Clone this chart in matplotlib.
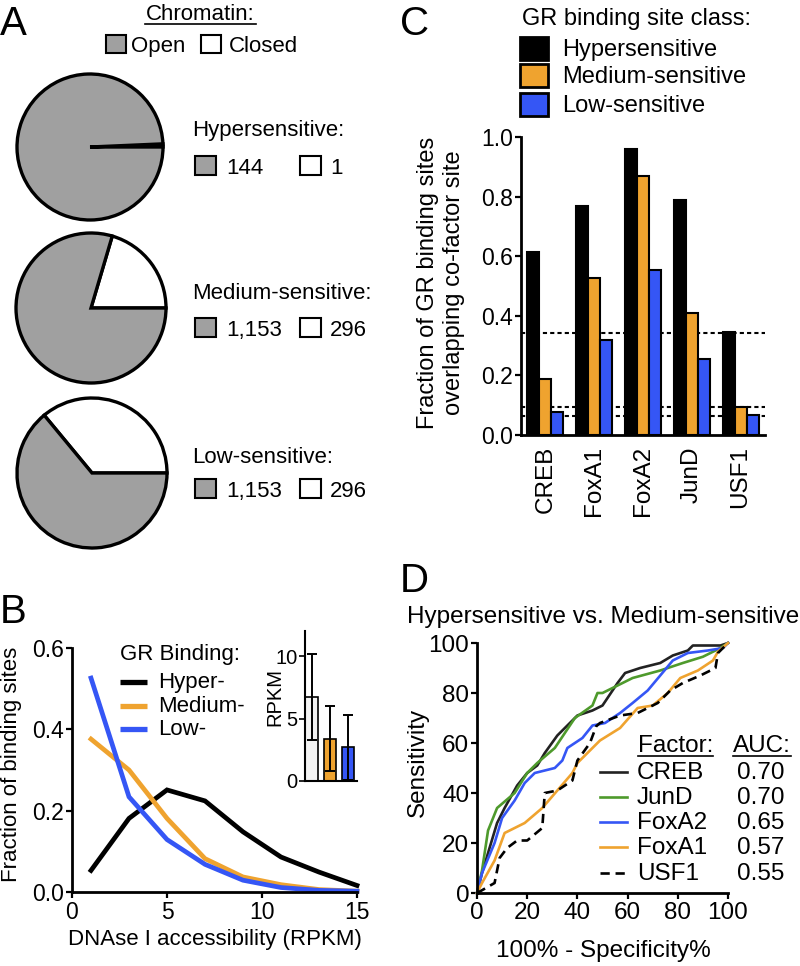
import matplotlib
matplotlib.use('Agg')
import matplotlib.pyplot as plt
from matplotlib.patches import Rectangle
import numpy as np

plt.rcParams['font.family'] = ['Liberation Sans', 'DejaVu Sans']

# ---------------- DATA ----------------
# Panel A
chromatin_states = ['Open', 'Closed']
pie_classes = ['Hypersensitive:', 'Medium-sensitive:', 'Low-sensitive:']
pie_closed = [1, 296, 36]
pie_open = [144, 1153, 64]
pie_open_labels = ['144', '1,153', '1,153']
pie_closed_labels = ['1', '296', '296']

# Panel B
access_x = [1, 3, 5, 7, 9, 11, 13, 15]
frac_hyper = [0.053, 0.181, 0.251, 0.224, 0.148, 0.086, 0.049, 0.016]
frac_medium = [0.376, 0.300, 0.181, 0.082, 0.037, 0.018, 0.006, 0.002]
frac_low = [0.526, 0.234, 0.129, 0.068, 0.029, 0.011, 0.004, 0.002]
b_series = ['Hyper-', 'Medium-', 'Low-']
inset_mean = [6.7, 3.4, 2.7]
inset_sd = [3.45, 2.6, 2.6]

# Panel C
factors_c = ['CREB', 'FoxA1', 'FoxA2', 'JunD', 'USF1']
c_classes = ['Hypersensitive', 'Medium-sensitive', 'Low-sensitive']
c_hyper = [0.615, 0.768, 0.961, 0.788, 0.346]
c_medium = [0.187, 0.528, 0.868, 0.411, 0.095]
c_low = [0.076, 0.318, 0.555, 0.256, 0.067]
c_background = [0.343, 0.095, 0.065]

# Panel D (ROC curves)
roc_names = ['CREB', 'JunD', 'FoxA2', 'FoxA1', 'USF1']
roc_auc = ['0.70', '0.70', '0.65', '0.57', '0.55']
creb_fpr = [0, 2, 5, 8, 11, 16, 20, 24, 27, 32, 40, 46, 50, 56, 59, 65, 73, 78, 84, 86, 97, 100]
creb_tpr = [0, 8, 18, 28, 34, 43, 48, 51, 56, 63, 71, 73, 75, 84, 88, 90, 92, 95, 97, 99, 99, 100]
jund_fpr = [0, 2, 4.4, 8, 15, 20, 24, 31, 39, 46, 48, 50, 54, 62, 73, 82, 90, 97, 100]
jund_tpr = [0, 9, 25, 34, 40, 48, 52, 58, 70, 75, 80, 80, 82, 86, 89, 92, 94.5, 98, 100]
foxa2_fpr = [0, 2, 7, 10, 15, 19, 23, 31, 34, 36, 42, 46, 51, 57, 62, 68, 73, 78, 84, 92, 98, 100]
foxa2_tpr = [0, 8, 20, 30, 37, 44, 48, 50, 53, 58, 62, 67, 68, 72, 76, 81, 87, 93, 96, 97, 98, 100]
foxa1_fpr = [0, 2, 7, 11, 19, 26, 32, 38, 40, 45, 49, 57, 64, 70, 76, 81, 88, 94, 96, 100]
foxa1_tpr = [0, 4, 13, 24, 28, 34, 41, 48, 52, 57, 61, 66, 74, 75, 80, 86, 89, 93, 96.5, 100]
usf1_fpr = [0, 1.3, 7, 9, 12, 16, 20, 26, 27, 32, 38, 40, 45, 47.5, 49, 57, 64, 72, 77, 82, 89, 95, 96, 100]
usf1_tpr = [0, 0.7, 4, 14, 18, 21, 21, 26, 40, 41, 45, 53, 60, 66.7, 68, 71, 72, 76, 81, 84, 87, 90, 96, 100]

# ---------------- STYLE ----------------
GRAY = '#A0A0A0'
ORANGE = '#EFA32F'
BLUE = '#3556F5'
GREEN = '#4E9A2C'

W, H = 800, 966
fig = plt.figure(figsize=(W / 100, H / 100), dpi=100)


def box(x0, y0, x1, y1):
    return [x0 / W, 1 - y1 / H, (x1 - x0) / W, (y1 - y0) / H]


def style_axes(ax, fs, lw=2.0):
    for s in ['top', 'right']:
        ax.spines[s].set_visible(False)
    for s in ['left', 'bottom']:
        ax.spines[s].set_linewidth(lw)
    ax.tick_params(direction='out', length=4.5, width=lw * 0.8, labelsize=fs, pad=1)


# ---------------- PANEL A ----------------
pie_geo = [(90, 147, 73), (91, 308, 75), (92, 473, 75)]
for i, (cx, cy, r) in enumerate(pie_geo):
    R = r * 1.06
    ax = fig.add_axes(box(cx - R, cy - R, cx + R, cy + R))
    ax.pie([pie_closed[i], pie_open[i]], colors=['white', GRAY], startangle=0,
           counterclock=True, radius=1.0,
           wedgeprops=dict(edgecolor='black', linewidth=2.4))
    ax.set_xlim(-1.06, 1.06)
    ax.set_ylim(-1.06, 1.06)
    ax.axis('off')

# ---------------- PANEL C ----------------
axC = fig.add_axes(box(521, 137, 765, 435))
xc = np.arange(len(factors_c))
bw = 0.245
for yb in c_background:
    axC.axhline(yb, color='black', lw=1.5, ls=(0, (2, 1.5)), zorder=1)
for vals, col, off in [(c_hyper, 'black', -bw), (c_medium, ORANGE, 0), (c_low, BLUE, bw)]:
    axC.bar(xc + off, vals, width=bw, color=col, edgecolor='black', linewidth=1.5, zorder=2)
axC.set_xlim(-0.5, 4.5)
axC.set_ylim(0, 1.0)
axC.set_yticks(np.arange(0, 1.01, 0.2))
axC.set_yticklabels(['%.1f' % v for v in np.arange(0, 1.01, 0.2)])
style_axes(axC, 16.5)
axC.set_xticks(xc)
axC.set_xticklabels(factors_c, rotation=90, fontsize=17.5)
axC.tick_params(axis='x', length=0, pad=8)

# ---------------- PANEL B ----------------
axB = fig.add_axes(box(72, 648, 357, 892))
for vals, col in [(frac_hyper, 'black'), (frac_medium, ORANGE), (frac_low, BLUE)]:
    axB.plot(access_x, vals, color=col, lw=3.4, clip_on=False, solid_joinstyle='miter')
axB.set_xlim(0, 15)
axB.set_ylim(0, 0.6)
axB.set_xticks([0, 5, 10, 15])
axB.set_yticks([0, 0.2, 0.4, 0.6])
axB.set_yticklabels(['0.0', '0.2', '0.4', '0.6'])
style_axes(axB, 16.5)
axB.tick_params(axis='x', pad=2)

axI = fig.add_axes(box(305, 631, 357, 781))
axI.bar([0, 1, 2], inset_mean, width=0.68, color=['#F3F3F3', ORANGE, BLUE],
        edgecolor='black', linewidth=1.2, yerr=inset_sd,
        error_kw=dict(ecolor='black', elinewidth=1.4, capsize=3.5, capthick=1.4))
axI.set_xlim(-0.36, 2.5)
axI.set_ylim(0, 12)
axI.set_yticks([0, 5, 10])
axI.set_xticks([])
style_axes(axI, 14.5, lw=1.5)
axI.patch.set_alpha(0)

# ---------------- PANEL D ----------------
axD = fig.add_axes(box(477, 643, 728, 893))
roc_sets = [(creb_fpr, creb_tpr, '#222222', '-'), (jund_fpr, jund_tpr, GREEN, '-'),
            (foxa2_fpr, foxa2_tpr, BLUE, '-'), (foxa1_fpr, foxa1_tpr, ORANGE, '-'),
            (usf1_fpr, usf1_tpr, 'black', (0, (3.5, 2.2)))]
for fx, fy, col, ls in roc_sets:
    axD.plot(fx, fy, color=col, lw=1.9, ls=ls, clip_on=False)
axD.set_xlim(0, 100)
axD.set_ylim(0, 100)
axD.set_xticks(range(0, 101, 20))
axD.set_yticks(range(0, 101, 20))
style_axes(axD, 17.5)
axD.tick_params(axis='x', pad=2)

# ---------------- OVERLAY TEXT ----------------
ov = fig.add_axes([0, 0, 1, 1], zorder=10)
ov.set_xlim(0, W)
ov.set_ylim(H, 0)
ov.axis('off')


def T(x, y, s, fs=16, **kw):
    ov.text(x, y, s, fontsize=fs, va=kw.pop('va', 'baseline'), ha=kw.pop('ha', 'left'), **kw)


# panel letters
T(0, 35, 'A', 29)
T(400, 35, 'C', 29)
T(0, 623, 'B', 29)
T(400, 592, 'D', 29)

# Panel A legend
T(200, 20, 'Chromatin:', 16)
ov.texts[-1].set_ha('center')
ov.plot([145, 256], [24, 24], color='black', lw=1.2)
ov.add_patch(Rectangle((106, 35), 20, 18, facecolor=GRAY, edgecolor='black', lw=1.5))
T(131, 52, chromatin_states[0], 16)
ov.add_patch(Rectangle((201, 35), 20, 18, facecolor='white', edgecolor='black', lw=1.5))
T(229, 52, chromatin_states[1], 16)

rows_a = [(136, 156), (299, 318), (463, 479)]
for i, (ty, sy) in enumerate(rows_a):
    T(192, ty, pie_classes[i], 16)
    ov.add_patch(Rectangle((195, sy), 21, 19, facecolor=GRAY, edgecolor='black', lw=1.5))
    T(226, sy + 18, pie_open_labels[i], 16)
    ov.add_patch(Rectangle((300, sy), 21, 19, facecolor='white', edgecolor='black', lw=1.5))
    T(330, sy + 18, pie_closed_labels[i], 16)

# Panel C legend and label
T(522, 25, 'GR binding site class:', 17)
for (y0, col, lab) in [(37, 'black', c_classes[0]), (64, ORANGE, c_classes[1]), (93, BLUE, c_classes[2])]:
    ov.add_patch(Rectangle((520, y0), 28, 23, facecolor=col, edgecolor='black', lw=2))
    T(562, y0 + 19, lab, 17)
T(441, 283, 'Fraction of GR binding sites\noverlapping co-factor site', 17,
  rotation=90, ha='center', va='center', multialignment='center', linespacing=1.2)

# Panel B labels & legend
T(12, 764, 'Fraction of binding sites', 16, rotation=90, ha='center', va='center')
T(215, 945, 'DNAse I accessibility (RPKM)', 16, ha='center')
T(120, 660, 'GR Binding:', 16)
for (ly, col, lab) in [(682, 'black', b_series[0]), (706, ORANGE, b_series[1]), (729, BLUE, b_series[2])]:
    ov.plot([120, 147], [ly, ly], color=col, lw=3.8, solid_capstyle='butt')
    T(158, ly + 6, lab, 16)
T(275, 697, 'RPKM', 14.5, rotation=90, ha='center', va='center')

# Panel D labels & legend
T(407, 623, 'Hypersensitive vs. Medium-sensitive', 17.5)
T(418, 762, 'Sensitivity', 17.5, rotation=90, ha='center', va='center')
T(603, 957, '100% - Specificity%', 17.5, ha='center')
T(638, 752, 'Factor:', 17.5)
ov.plot([638, 713], [756, 756], color='black', lw=1.2)
T(733, 752, 'AUC:', 17.5)
ov.plot([733, 791], [756, 756], color='black', lw=1.2)
row_y = [772, 797, 822, 847, 873]
leg_style = {name: (col, ls) for name, (fx, fy, col, ls) in zip(roc_names, roc_sets)}
for i, name in enumerate(roc_names):
    col, ls = leg_style[name]
    ov.plot([600, 627], [row_y[i], row_y[i]], color=col, lw=1.9, ls=ls)
    T(637, row_y[i] + 7, name, 17.5)
    T(737, row_y[i] + 7, roc_auc[i], 17.5)

fig.savefig('out.png', dpi=100)
